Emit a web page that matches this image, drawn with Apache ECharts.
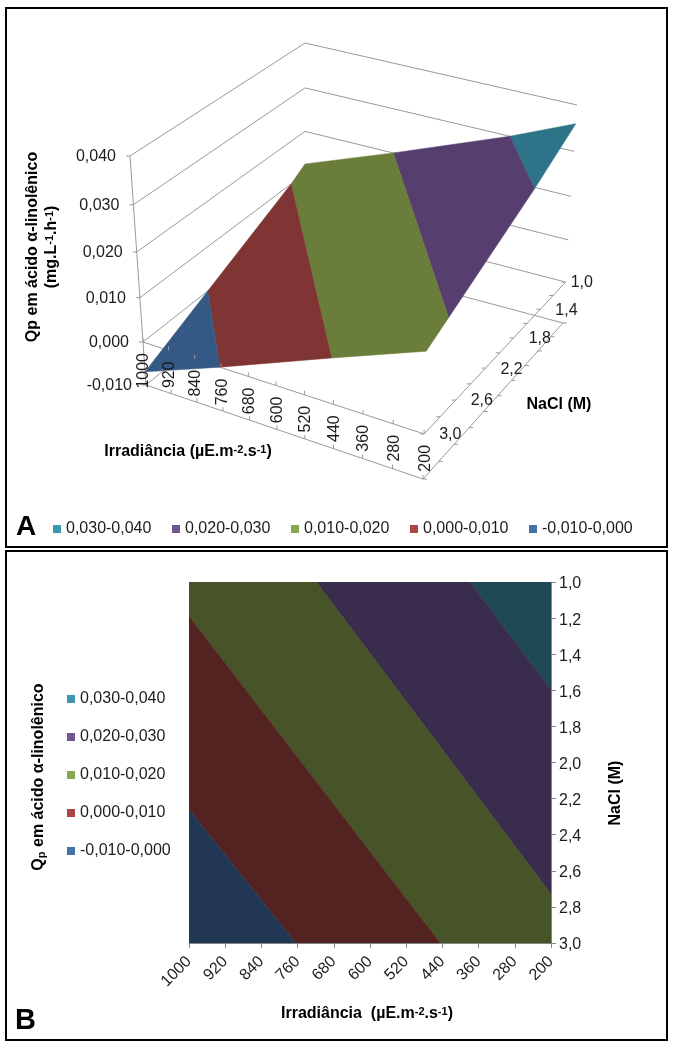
<!DOCTYPE html>
<html><head><meta charset="utf-8">
<style>html,body{margin:0;padding:0;background:#fff}#c{width:675px;height:1047px}</style>
<script src="https://cdn.jsdelivr.net/npm/echarts@6/dist/echarts.min.js"></script>
</head><body><div id="c"></div>
<script>
// ---- data
const irradianceTicks = [1000, 920, 840, 760, 680, 600, 520, 440, 360, 280, 200];
const naclLabelsB = ['1,0','1,2','1,4','1,6','1,8','2,0','2,2','2,4','2,6','2,8','3,0'];
const naclTicksA = [1.0, 1.2, 1.4, 1.6, 1.8, 2.0, 2.2, 2.4, 2.6, 2.8, 3.0];
const naclLabelTicksA = [1.0, 1.4, 1.8, 2.2, 2.6, 3.0];
const qTicks = [-0.01, 0, 0.01, 0.02, 0.03, 0.04];
const bandNames = ['0,030-0,040', '0,020-0,030', '0,010-0,020', '0,000-0,010', '-0,010-0,000'];
// band outlines on the response surface: [irradiance, NaCl, Qp]
const band030 = [[379,1,.03],[200,1.6,.03],[200,1,.036]];
const band020 = [[719,1,.02],[200,2.73,.02],[200,1.6,.03],[379,1,.03]];
const band010 = [[1000,1,.0123],[1000,1.19,.01],[445,3,.01],[200,3,.0176],[200,2.73,.02],[719,1,.02]];
const band000 = [[1000,1.19,.01],[1000,2.26,0],[764,3,0],[445,3,.01]];
const bandNeg = [[1000,2.26,0],[1000,3,-.0069],[764,3,0]];
const bands = [band030, band020, band010, band000, bandNeg];

// ---- styles
const colorsA = ['#2E7489','#563F6E','#6A7D3B','#7E3533','#345985'];
const colorsB = ['#1F4855','#392C4C','#465427','#522320','#223753'];
const colorsLegend = ['#3D96AE','#71588F','#89A54E','#AA4643','#4572A7'];
const FONT = '"Liberation Sans", Arial, sans-serif';
const TXT = '#1c1c1c';

// ---- 3D box of panel A (screen anchors of the box corners, on the hidden view axes)
const floorC = {l:[146,385], f:[423,479], r:[563,323], b:[305,254]};
const topC   = {l:[130,156], f:[429,239], r:[577,105], b:[305,43]};
const persp = 0.0756;
function homog(p0,p1,p2,p3,u,v){ // unit square -> quad (p0=0,0 p1=1,0 p2=1,1 p3=0,1)
  const dx1=p1[0]-p2[0],dx2=p3[0]-p2[0],sx=p0[0]-p1[0]+p2[0]-p3[0];
  const dy1=p1[1]-p2[1],dy2=p3[1]-p2[1],sy=p0[1]-p1[1]+p2[1]-p3[1];
  const d=dx1*dy2-dx2*dy1;
  const g=(sx*dy2-dx2*sy)/d,h=(dx1*sy-sx*dy1)/d;
  const a=p1[0]-p0[0]+g*p1[0],b=p3[0]-p0[0]+h*p3[0];
  const c=p1[1]-p0[1]+g*p1[1],e=p3[1]-p0[1]+h*p3[1];
  const w=g*u+h*v+1;
  return [(a*u+b*v+p0[0])/w,(c*u+e*v+p0[1])/w];
}
function project(irr,nacl,q){
  const t=(q+0.01)/0.05, w=t*(1-persp)/(1-persp*t);
  const m=k=>[floorC[k][0]+(topC[k][0]-floorC[k][0])*w, floorC[k][1]+(topC[k][1]-floorC[k][1])*w];
  return homog(m('l'),m('f'),m('r'),m('b'),(1000-irr)/800,(3-nacl)/2);
}
const view=(api,p)=>api.coord(p);

// ---- panel A frame lines: [irr1,nacl1,q1,irr2,nacl2,q2]
const wallLines=[];
qTicks.forEach(q=>{wallLines.push([1000,3,q,1000,1,q]);wallLines.push([1000,1,q,200,1,q]);});
wallLines.push([1000,3,-.01,1000,3,.04]);
[-.01,0].forEach(q=>{wallLines.push([1000,3,q,200,3,q]);wallLines.push([200,3,q,200,1,q]);});

const common={coordinateSystem:'cartesian2d',silent:true,clip:false};
const series=[];
const lineStyleBox={stroke:'#9a9a9a',lineWidth:1};
series.push({...common,type:'custom',xAxisIndex:2,yAxisIndex:2,data:wallLines,z:1,
  renderItem:(p,api)=>{const d=wallLines[p.dataIndex];
    const a=view(api,project(d[0],d[1],d[2])),b=view(api,project(d[3],d[4],d[5]));
    return {type:'line',shape:{x1:a[0],y1:a[1],x2:b[0],y2:b[1]},style:lineStyleBox};}});
// z ticks + labels
series.push({...common,type:'custom',xAxisIndex:2,yAxisIndex:2,data:qTicks,z:3,
  renderItem:(p,api)=>{const q=qTicks[p.dataIndex];const a=view(api,project(1000,3,q));
    return {type:'group',children:[
     {type:'line',shape:{x1:a[0]-4,y1:a[1],x2:a[0],y2:a[1]},style:lineStyleBox},
     {type:'text',x:a[0]-14,y:a[1]+1,style:{text:q.toFixed(3).replace('.',','),font:'16px '+FONT,fill:TXT,align:'right',verticalAlign:'middle'}}]};}});
// irradiance ticks + labels
series.push({...common,type:'custom',xAxisIndex:2,yAxisIndex:2,data:irradianceTicks,z:3,
  renderItem:(p,api)=>{const v=irradianceTicks[p.dataIndex];
    const a=view(api,project(v,3,0)),b=view(api,project(v,3,-.01));
    return {type:'group',children:[
     {type:'line',shape:{x1:a[0],y1:a[1]-4,x2:a[0],y2:a[1]},style:lineStyleBox},
     {type:'line',shape:{x1:b[0],y1:b[1]-4,x2:b[0],y2:b[1]},style:lineStyleBox},
     {type:'text',x:a[0]+1,y:a[1]+11,rotation:Math.PI/2,style:{text:String(v),font:'16px '+FONT,fill:TXT,align:'right',verticalAlign:'middle'}}]};}});
// NaCl ticks + labels
series.push({...common,type:'custom',xAxisIndex:2,yAxisIndex:2,data:naclTicksA,z:3,
  renderItem:(p,api)=>{const v=naclTicksA[p.dataIndex];
    const a=view(api,project(200,v,0)),b=view(api,project(200,v,-.01));
    const ch=[{type:'line',shape:{x1:a[0]-4,y1:a[1],x2:a[0],y2:a[1]},style:lineStyleBox},
     {type:'line',shape:{x1:b[0],y1:b[1],x2:b[0]+4,y2:b[1]},style:lineStyleBox}];
    if(naclLabelTicksA.includes(v)) ch.push({type:'text',x:a[0]+(v===1?5:15),y:a[1]+1,style:{text:v.toFixed(1).replace('.',','),font:'16px '+FONT,fill:TXT,align:'left',verticalAlign:'middle'}});
    return {type:'group',children:ch};}});

bands.forEach((verts,i)=>{
  series.push({...common,type:'custom',name:bandNames[i],xAxisIndex:2,yAxisIndex:2,data:verts,z:2,
    itemStyle:{color:colorsA[i]},
    renderItem:(p,api)=>{ if(p.dataIndex!==0) return null;
      return {type:'polygon',shape:{points:verts.map(d=>view(api,project(d[0],d[1],d[2])))},
        style:{fill:colorsA[i],stroke:colorsA[i],lineWidth:.5}};}});
  series.push({...common,type:'custom',name:bandNames[i],xAxisIndex:1,yAxisIndex:1,data:verts,z:2,clip:true,
    itemStyle:{color:colorsB[i]},
    renderItem:(p,api)=>{ if(p.dataIndex!==0) return null;
      return {type:'polygon',shape:{points:verts.map(d=>api.coord([d[0],d[1]]))},
        style:{fill:colorsB[i],stroke:colorsB[i],lineWidth:.5}};}});
});

const legendData=bandNames.map((n,i)=>({name:n,itemStyle:{color:colorsLegend[i]}}));
const rich={
  b:{fontSize:16,fontWeight:'bold',fontFamily:FONT,fill:'#000'},
  s:{fontSize:11,fontWeight:'bold',fontFamily:FONT,fill:'#000',verticalAlign:'top'},
  d:{fontSize:11,fontWeight:'bold',fontFamily:FONT,fill:'#000',verticalAlign:'bottom'}
};
const title=(text,x,y,rot)=>({type:'text',x,y,rotation:rot?Math.PI/2:0,z:10,
  style:{text,rich,align:'center',verticalAlign:'middle',font:'bold 16px '+FONT,fill:'#000'}});

const chart=echarts.init(document.getElementById('c'),null,{renderer:'canvas'});
chart.setOption({
  animation:false,backgroundColor:'#fff',
  grid:[
    {left:189,top:582,width:362,height:361,containLabel:false},
    {left:0,top:0,width:675,height:1047}
  ],
  xAxis:[
    {gridIndex:0,type:'category',boundaryGap:false,data:irradianceTicks.map(String),position:'bottom',
     axisLine:{lineStyle:{color:'#868686'}},axisTick:{length:5,alignWithLabel:true,lineStyle:{color:'#868686'}},
     axisLabel:{interval:0,rotate:45,fontSize:16,fontFamily:FONT,color:TXT,margin:16,hideOverlap:false},splitLine:{show:false}},
    {gridIndex:0,type:'value',show:false,inverse:true,min:200,max:1000,splitLine:{show:false}},
    {gridIndex:1,type:'value',show:false,min:0,max:675,splitLine:{show:false}}
  ],
  yAxis:[
    {gridIndex:0,type:'category',boundaryGap:false,inverse:true,position:'right',data:naclLabelsB,
     axisLine:{lineStyle:{color:'#868686'}},axisTick:{length:5,lineStyle:{color:'#868686'}},
     axisLabel:{interval:0,margin:8,hideOverlap:false,formatter:v=>'{a|'+v+'}',
       rich:{a:{fontSize:16,fontFamily:FONT,color:TXT,padding:[4,0,0,0]}}},splitLine:{show:false}},
    {gridIndex:0,type:'value',show:false,inverse:true,min:1,max:3,splitLine:{show:false}},
    {gridIndex:1,type:'value',show:false,inverse:true,min:0,max:1047,splitLine:{show:false}}
  ],
  legend:[
    {left:53,top:521,padding:0,orient:'horizontal',itemWidth:8,itemHeight:8,itemGap:20.6,icon:'rect',selectedMode:false,data:legendData,
     textStyle:{fontSize:16,fontFamily:FONT,color:TXT}},
    {left:67,top:691,padding:0,orient:'vertical',itemWidth:8,itemHeight:8,itemGap:22,icon:'rect',selectedMode:false,data:legendData,
     textStyle:{fontSize:16,fontFamily:FONT,color:TXT}}
  ],
  graphic:{elements:[
    {type:'rect',shape:{x:6,y:8,width:661,height:539},style:{fill:'none',stroke:'#000',lineWidth:2},z:20},
    {type:'rect',shape:{x:6,y:551,width:661,height:489},style:{fill:'none',stroke:'#000',lineWidth:2},z:20},
    {type:'text',x:16,y:527,z:10,style:{text:'A',font:'bold 28px '+FONT,fill:'#000',align:'left',verticalAlign:'middle'}},
    {type:'text',x:15,y:1021,z:10,style:{text:'B',font:'bold 29px '+FONT,fill:'#000',align:'left',verticalAlign:'middle'}},
    title('{b|Qp em ácido α-linolênico}',33,247,true),
    title('{b|(mg.L}{s|-1}{b|.h}{s|-1}{b|)}',52,247,true),
    title('{b|Irradiância (µE.m}{s|-2}{b|.s}{s|-1}{b|)}',188,452,false),
    title('{b|NaCl (M)}',559,405,false),
    title('{b|Q}{d|p}{b| em ácido α-linolênico}',39,777,true),
    title('{b|Irradiância  (µE.m}{s|-2}{b|.s}{s|-1}{b|)}',367,1014,false),
    title('{b|NaCl (M)}',616,793,true)
  ]},
  series
});
</script></body></html>
